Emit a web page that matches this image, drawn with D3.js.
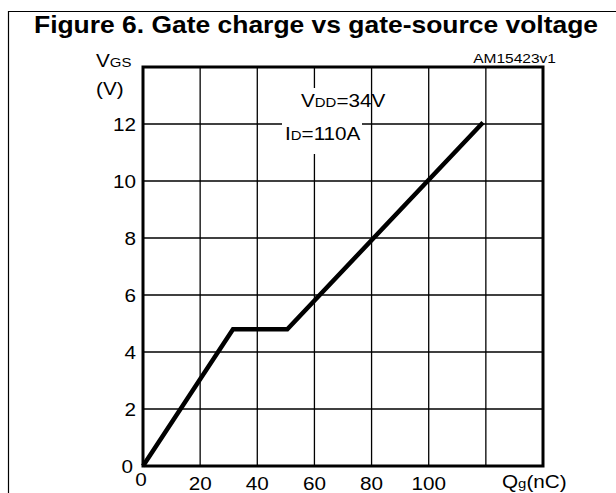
<!DOCTYPE html>
<html lang="en">
<head>
<meta charset="utf-8">
<title>Gate charge vs gate-source voltage</title>
<script src="https://cdn.jsdelivr.net/npm/d3@7"></script>
<style>
  body { margin: 0; background: #fff; }
  text { font-family: "Liberation Sans", Arial, sans-serif; fill: #000; }
</style>
</head>
<body>
<script>
// gate charge curve (nC, V)
var qg = [0, 31.5, 50.5, 119];
var vgs = [0, 4.8, 4.8, 12.05];

var xTicks = [0, 20, 40, 60, 80, 100];
var yTicks = [0, 2, 4, 6, 8, 10, 12];
var xGrid = [20, 40, 60, 80, 100, 120];
var yGrid = [2, 4, 6, 8, 10, 12];

var W = 616, H = 493;
var plotLeft = 143, plotTop = 67, pw = 400, ph = 399;
var sx = 1.15; // text in the source is a bit wide

var svg = d3.select("body").append("svg")
    .attr("width", W).attr("height", H);

var x = d3.scaleLinear().domain([0, 140]).range([plotLeft, plotLeft + pw]);
var y = d3.scaleLinear().domain([0, 14]).range([plotTop + ph, plotTop]);

// helper: wide text
function label(g, tx, ty, str, size, anchor, weight) {
  return g.append("text")
    .attr("transform", "translate(" + tx + "," + ty + ") scale(" + sx + ",1)")
    .attr("font-size", size)
    .attr("text-anchor", anchor || "start")
    .attr("font-weight", weight || "normal")
    .text(str);
}
// text with a small-caps style subscript part
function subLabel(g, tx, ty, a, b, c, size, small) {
  var t = g.append("text")
    .attr("transform", "translate(" + tx + "," + ty + ") scale(" + sx + ",1)")
    .attr("font-size", size);
  t.append("tspan").text(a);
  t.append("tspan").attr("font-size", small).text(b);
  if (c) t.append("tspan").text(c);
  return t;
}

// outer frame
svg.append("path")
  .attr("d", "M8.5," + H + "V11.5H" + W)
  .attr("fill", "none").attr("stroke", "#000").attr("stroke-width", 1.2);

label(svg, 316, 33, "Figure 6. Gate charge vs gate-source voltage", 23, "middle", "bold");

// grid
svg.selectAll(".vg").data(xGrid).enter().append("line")
  .attr("x1", function(d) { return x(d); }).attr("x2", function(d) { return x(d); })
  .attr("y1", y(0)).attr("y2", y(14))
  .attr("stroke", "#000").attr("stroke-width", 1.3);
svg.selectAll(".hg").data(yGrid).enter().append("line")
  .attr("y1", function(d) { return y(d); }).attr("y2", function(d) { return y(d); })
  .attr("x1", x(0)).attr("x2", x(140))
  .attr("stroke", "#000").attr("stroke-width", 1.3);

// annotation box hides grid under it
svg.append("rect")
  .attr("x", 282).attr("y", 88).attr("width", 80).attr("height", 66)
  .attr("fill", "#fff");

subLabel(svg, 301, 107, "V", "DD", "=34V", 18, 13);
subLabel(svg, 285, 140, "I", "D", "=110A", 18, 13);

// frame of the plot
svg.append("rect")
  .attr("x", x(0)).attr("y", y(14))
  .attr("width", x(140) - x(0)).attr("height", y(0) - y(14))
  .attr("fill", "none").attr("stroke", "#000").attr("stroke-width", 3);

// curve
var line = d3.line()
  .x(function(d, i) { return x(qg[i]); })
  .y(function(d, i) { return y(vgs[i]); });
svg.append("path")
  .datum(qg)
  .attr("d", line)
  .attr("fill", "none").attr("stroke", "#000")
  .attr("stroke-width", 4.5).attr("stroke-linejoin", "miter");

// y tick labels
yTicks.forEach(function(v) {
  label(svg, x(0) - (v === 0 ? 10 : 7), y(v) + 6.5, String(v), 18, "end");
});
// x tick labels
xTicks.forEach(function(v) {
  var yy = v === 0 ? 486 : 490;
  label(svg, x(v) - (v === 0 ? 2 : 0), yy, String(v), 18, "middle");
});

// axis titles
subLabel(svg, 96, 67, "V", "GS", null, 18, 13);
label(svg, 96, 95, "(V)", 18, "start");
subLabel(svg, 502, 488, "Q", "g", "(nC)", 18, 13);

label(svg, 556, 63, "AM15423v1", 13.5, "end");
</script>
</body>
</html>
